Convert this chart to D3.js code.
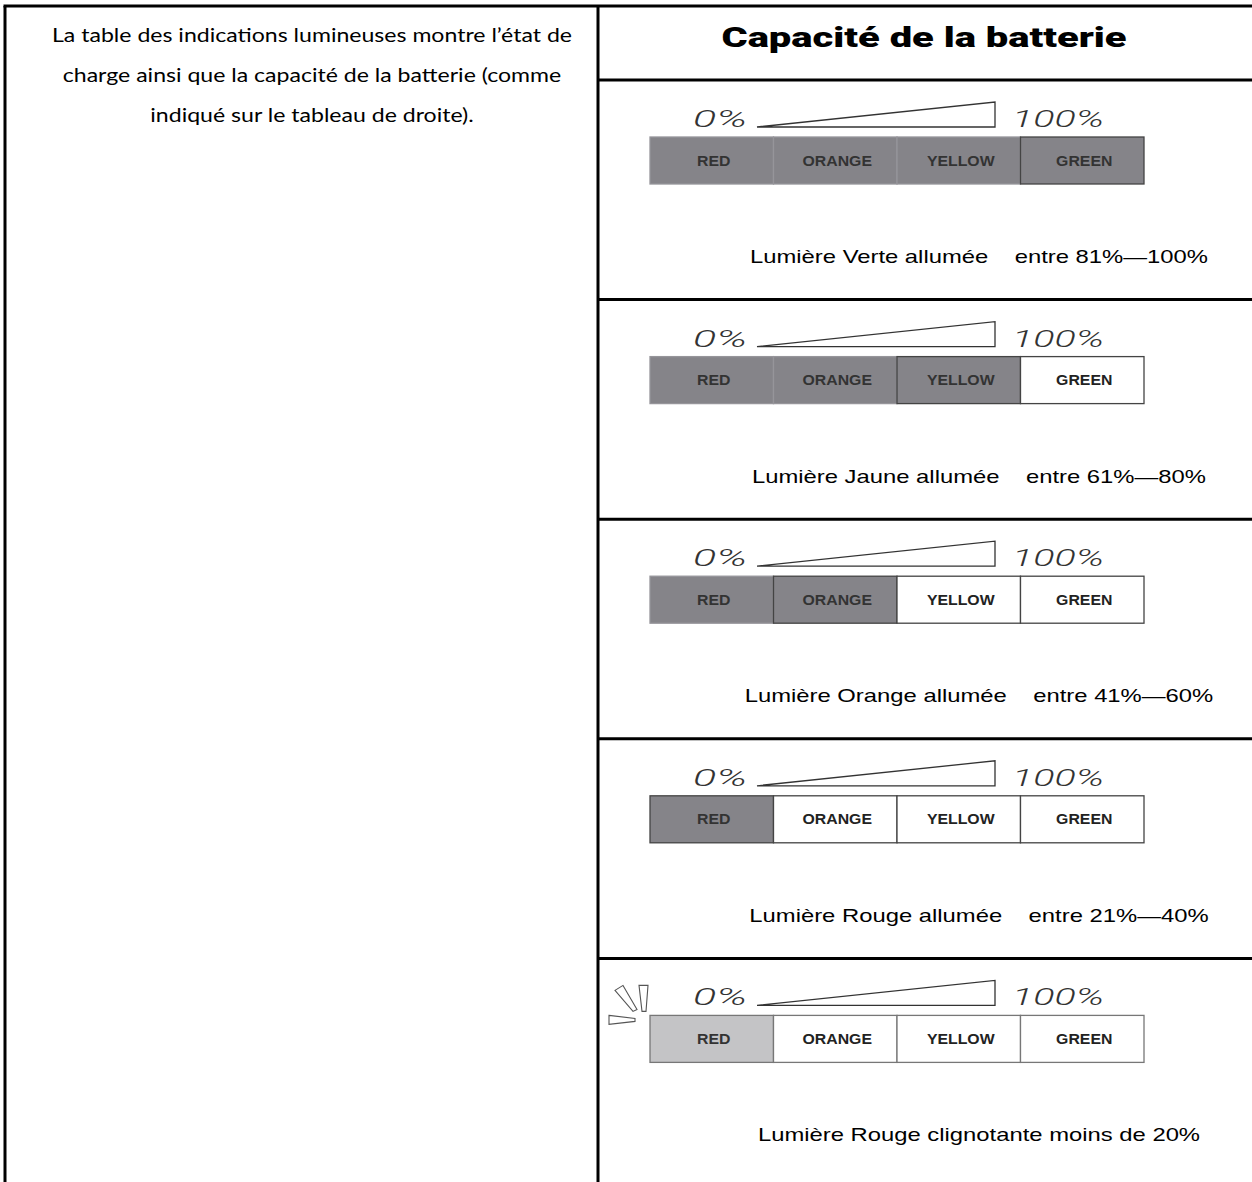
<!DOCTYPE html>
<html>
<head>
<meta charset="utf-8">
<script src="https://cdn.jsdelivr.net/npm/d3@7/dist/d3.min.js"></script>
<style>
  html, body { margin: 0; padding: 0; background: #fff; }
  svg { display: block; }
</style>
</head>
<body>
<svg id="chart" width="1252" height="1182"></svg>
<script>
// ---------- data ----------
const introLines = [
  "La table des indications lumineuses montre l’état de",
  "charge ainsi que la capacité de la batterie (comme",
  "indiqué sur le tableau de droite)."
];
const titleText = "Capacité de la batterie";
const cellLabels = ["RED", "ORANGE", "YELLOW", "GREEN"];
const litCounts = [4, 3, 2, 1, 1];
const blinking = [false, false, false, false, true];
const captions = [
  "Lumière Verte allumée    entre 81%—100%",
  "Lumière Jaune allumée    entre 61%—80%",
  "Lumière Orange allumée    entre 41%—60%",
  "Lumière Rouge allumée    entre 21%—40%",
  "Lumière Rouge clignotante moins de 20%"
];
const gaugeLabels = ["0%", "100%"];

// ---------- layout ----------
const W = 1252, H = 1182;
const svg = d3.select("#chart");
const leftX = 5, midX = 598, topY = 6, titleBottom = 80;

const panelY = d3.scaleBand().domain(d3.range(captions.length)).range([titleBottom, 1178]);
const cellX = d3.scaleBand().domain(cellLabels).range([650, 1144]);
const gaugeX = d3.scaleLinear().domain([0, 100]).range([757, 995]);

// horizontally stretch a text so that it spans `width`, anchored per `anchor`
function fit(sel, width, anchor, x) {
  sel.attr("text-anchor", "start");
  sel.attr("textLength", width).attr("lengthAdjust", "spacingAndGlyphs");
  const x0 = anchor === "middle" ? x - width / 2 : anchor === "end" ? x - width : x;
  sel.attr("x", x0);
}
function stretch(sel, k, anchor, x) {
  sel.each(function () {
    const t = d3.select(this);
    const w = this.getComputedTextLength() * k;
    fit(t, w, anchor, typeof x === "function" ? x(t.datum()) : x);
  });
}

// intro text (left column)
const introY = d3.scalePoint().domain(d3.range(introLines.length)).range([42, 122]);
const intro = svg.append("g").selectAll("text").data(introLines).join("text")
  .attr("y", (d, i) => introY(i))
  .style("font-family", "Lato, 'Open Sans', sans-serif")
  .style("font-size", "18.5px")
  .attr("fill", "#000")
  .text(d => d);
{
  const k = 520 / intro.node().getComputedTextLength();
  stretch(intro, k, "middle", 312);
}

// title
const title = svg.append("text")
  .attr("y", 47)
  .style("font-family", "Roboto, 'Liberation Sans', sans-serif")
  .style("font-weight", "900")
  .style("font-size", "28px")
  .attr("fill", "#000")
  .text(titleText);
fit(title, 405, "middle", 924);

// panels
const panels = svg.append("g").selectAll("g.panel").data(captions).join("g")
  .attr("class", "panel")
  .attr("transform", (d, i) => `translate(0,${panelY(i)})`);

// gauge wedge
panels.append("path")
  .attr("d", () => {
    const p = d3.path();
    p.moveTo(gaugeX(0), 47);
    p.lineTo(gaugeX(100), 22);
    p.lineTo(gaugeX(100), 47);
    p.closePath();
    return p.toString();
  })
  .attr("fill", "#fff")
  .attr("stroke", "#333")
  .attr("stroke-width", 1.3);

const g0 = panels.append("text")
  .attr("y", 47)
  .style("font-family", "Roboto, 'DejaVu Sans', sans-serif")
  .style("font-style", "italic")
  .style("font-weight", "300")
  .style("font-size", "23px")
  .attr("fill", "#333")
  .text(gaugeLabels[0]);
fit(g0, 54, "end", gaugeX(0) - 10);

const g1 = panels.append("text")
  .attr("y", 47)
  .style("font-family", "Roboto, 'DejaVu Sans', sans-serif")
  .style("font-style", "italic")
  .style("font-weight", "300")
  .style("font-size", "23px")
  .attr("fill", "#333")
  .text(gaugeLabels[1]);
fit(g1, 92, "start", gaugeX(100) + 17);

// cells
const barTop = 57, barH = 47;
const captionNodes = [];
panels.each(function (cap, pi) {
  const g = d3.select(this);
  const lit = litCounts[pi];
  const cells = g.append("g").selectAll("g").data(cellLabels).join("g");
  cells.append("rect")
    .attr("x", d => cellX(d))
    .attr("y", barTop)
    .attr("width", cellX.bandwidth())
    .attr("height", barH)
    .attr("fill", (d, ci) => ci < lit ? (blinking[pi] ? "#c4c4c6" : "#858489") : "#fff")
    .attr("stroke", (d, ci) => (ci < lit - 1) ? "#96959a" : (blinking[pi] ? "#777" : "#444"))
    .attr("stroke-width", 1.3);
  cells.filter((d, ci) => ci >= lit - 1).raise();
  const labels = cells.append("text")
    .attr("y", barTop + barH / 2 + 5)
    .style("font-family", "'Liberation Sans', Arial, sans-serif")
    .style("font-weight", "bold")
    .style("font-size", "14px")
    .attr("fill", (d, ci) => ci < lit ? "#333" : "#222")
    .text(d => d);
  stretch(labels, 1.13, "middle", d => cellX(d) + cellX.bandwidth() / 2 + 2);

  if (blinking[pi]) {
    const x0 = cellX(cellLabels[0]) - 3, t = barTop;
    const marks = [
      // vertical tapered ray
      [[x0 - 8, t - 30], [x0 + 1, t - 30], [x0 - 1, t - 4], [x0 - 5, t - 4]],
      // diagonal ray
      [[x0 - 32, t - 25], [x0 - 24, t - 30], [x0 - 10, t - 6], [x0 - 14, t - 4]],
      // horizontal ray
      [[x0 - 38, t], [x0 - 12, t + 3], [x0 - 12, t + 6], [x0 - 38, t + 9]]
    ];
    g.append("g").selectAll("path").data(marks).join("path")
      .attr("d", d => d3.line()(d) + "Z")
      .attr("fill", "#fff")
      .attr("stroke", "#555")
      .attr("stroke-width", 1.1);
  }

  const c = g.append("text")
    .attr("y", 183)
    .style("font-family", "'Liberation Sans', Arial, sans-serif")
    .style("font-size", "18.6px")
    .style("white-space", "pre")
    .attr("fill", "#000")
    .text(cap);
  captionNodes.push(c);
});
{
  const k = 458 / captionNodes[0].node().getComputedTextLength();
  captionNodes.forEach(c => stretch(c, k, "middle", 979));
}

// table lines
const lines = svg.append("g").attr("stroke", "#000").attr("stroke-width", 3);
lines.append("line").attr("x1", leftX - 1.5).attr("x2", W).attr("y1", topY).attr("y2", topY);
lines.append("line").attr("x1", leftX).attr("x2", leftX).attr("y1", topY).attr("y2", H);
lines.append("line").attr("x1", midX).attr("x2", midX).attr("y1", topY).attr("y2", H);
lines.selectAll("line.row").data(d3.range(captions.length)).join("line")
  .attr("class", "row")
  .attr("x1", midX).attr("x2", W)
  .attr("y1", d => panelY(d)).attr("y2", d => panelY(d));
</script>
</body>
</html>
